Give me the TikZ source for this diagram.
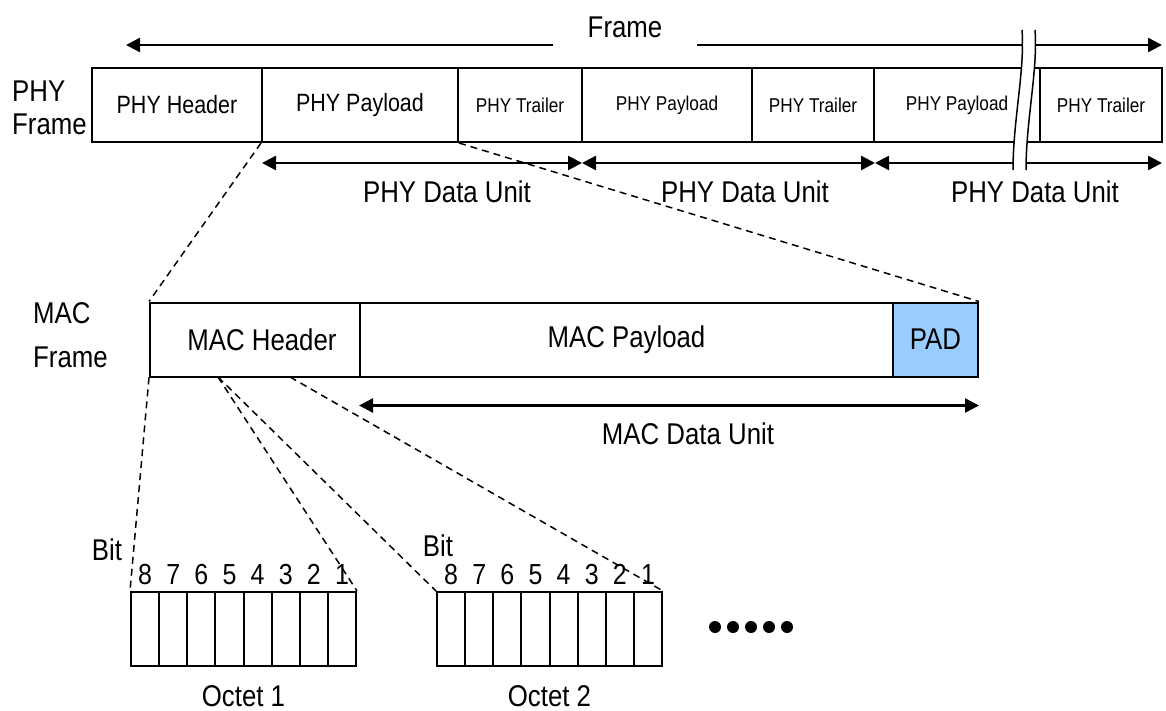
\documentclass[tikz,border=0pt]{standalone}
\usepackage{fontspec}
\setmainfont[FakeStretch=0.86]{Liberation Sans}
\usetikzlibrary{arrows.meta,positioning}

\begin{document}
\begin{tikzpicture}[x=1pt, y=-1pt,
    cell/.style={draw, line width=2pt, minimum height=74, inner sep=0pt},
    bitcell/.style={draw, line width=2pt, minimum width=28.125, minimum height=74, inner sep=0pt},
    big/.style={font=\fontsize{30}{33}\selectfont, inner sep=0pt},
    mid/.style={font=\fontsize{25}{30}\selectfont},
    small/.style={font=\fontsize{20}{24}\selectfont},
    digit/.style={font=\fontsize{29}{30}\selectfont, inner sep=1pt},
    arr/.style={line width=2.5pt, -{Triangle[length=14pt, width=14pt]}},
    darr/.style={line width=2.5pt, {Triangle[length=14pt, width=14pt]}-{Triangle[length=14pt, width=14pt]}},
    dashline/.style={line width=1.5pt, dash pattern=on 7pt off 5pt},
]
    \useasboundingbox (0,0) rectangle (1166,711);

    % PHY frame
    \node[big, align=left, anchor=west] (phylbl) at (12,108) {PHY\\Frame};
    \node[cell, mid, minimum width=170] (phyhdr) at (177,105) {PHY Header};
    \node[cell, mid, minimum width=196] (phypay) at (360,105) {PHY Payload};
    \node[cell, small, minimum width=124] (phytrl) at (520,105) {PHY Trailer};
    \node[cell, small, minimum width=170] (phypayb) at (667,105) {PHY Payload};
    \node[cell, small, minimum width=122] (phytrlb) at (813,105) {PHY Trailer};
    \node[cell, small, minimum width=166] (phypayc) at (957,105) {PHY Payload\hspace{10pt}};
    \node[cell, small, minimum width=122] (phytrlc) at (1101,105) {PHY Trailer};

    % Frame arrow
    \node[big] (frame) at (625,27) {Frame};
    \coordinate (fl) at (126,45);
    \coordinate (fgl) at (553,45);
    \coordinate (fgr) at (697,45);
    \coordinate (fr) at (1162,45);
    \draw[arr] (fgl) -- (fl);
    \draw[arr] (fgr) -- (fr);

    % PHY data units
    \coordinate (pu0) at (262,163);
    \coordinate (pu1) at (582,163);
    \coordinate (pu2) at (875,163);
    \coordinate (pu3) at (1162,163);
    \draw[darr] (pu0) -- (pu1);
    \draw[darr] (pu1) -- (pu2);
    \draw[darr] (pu2) -- (pu3);
    \node[big] (pdu1) at (447,192) {PHY Data Unit};
    \node[big] (pdu2) at (745,192) {PHY Data Unit};
    \node[big] (pdu3) at (1035,192) {PHY Data Unit};

    % MAC frame
    \node[align=left, anchor=west, inner sep=0pt, font=\fontsize{30}{44}\selectfont] (maclbl) at (33,335) {MAC\\Frame};
    \node[cell, big, minimum width=210] (machdr) at (255,339.5) {\hspace{14pt}MAC Header};
    \node[cell, big, minimum width=533] (macpay) at (626.5,339.5) {MAC Payload};
    \node[cell, big, minimum width=85, fill={rgb,255:red,153;green,204;blue,255}] (pad) at (935.5,339.5) {PAD};
    \draw[darr] (macpay.south west) ++(0,28) coordinate (mu0) -- (pad.south east |- mu0) coordinate (mu1);
    \node[big] (mdu) at (688,434) {MAC Data Unit};

    % Octets
    \foreach \i in {1,...,8} {
        \node[bitcell] (oa\i) at ({131+28.125*(\i-0.5)},629) {};
        \node[bitcell] (ob\i) at ({437+28.125*(\i-0.5)},629) {};
        \pgfmathtruncatemacro\b{9-\i}
        \node[digit, above=5pt of oa\i] (da\i) {\b};
        \node[digit, above=5pt of ob\i] (db\i) {\b};
    }
    \node[big] (bita) at (107,550) {Bit};
    \node[big] (bitb) at (438,546) {Bit};
    \node[big] (octa) at (243.5,696) {Octet 1};
    \node[big] (octb) at (549.5,696) {Octet 2};
    \foreach \x in {715,733,...,787}
        \fill (\x,627) circle (6pt);

    % Zoom lines
    \coordinate (mh1) at (218,377);
    \coordinate (mh2) at (290,377);
    \draw[dashline] (phypay.south west) -- (machdr.north west);
    \draw[dashline] (phypay.south east) -- (pad.north east);
    \draw[dashline] (machdr.south west) -- (oa1.north west);
    \draw[dashline] (mh1) -- (oa8.north east);
    \draw[dashline] (mh1) -- (ob1.north west);
    \draw[dashline] (mh2) -- (ob8.north east);

    % Break
    \fill[white] (1022,30) .. controls (1025,70) and (1013,120) .. (1013,170)
        -- (1026,170) .. controls (1026,120) and (1038,70) .. (1035,30) -- cycle;
    \draw[line width=1.5pt] (1022,30) .. controls (1025,70) and (1013,120) .. (1013,170);
    \draw[line width=1.5pt] (1035,30) .. controls (1038,70) and (1026,120) .. (1026,170);

\end{tikzpicture}
\end{document}
